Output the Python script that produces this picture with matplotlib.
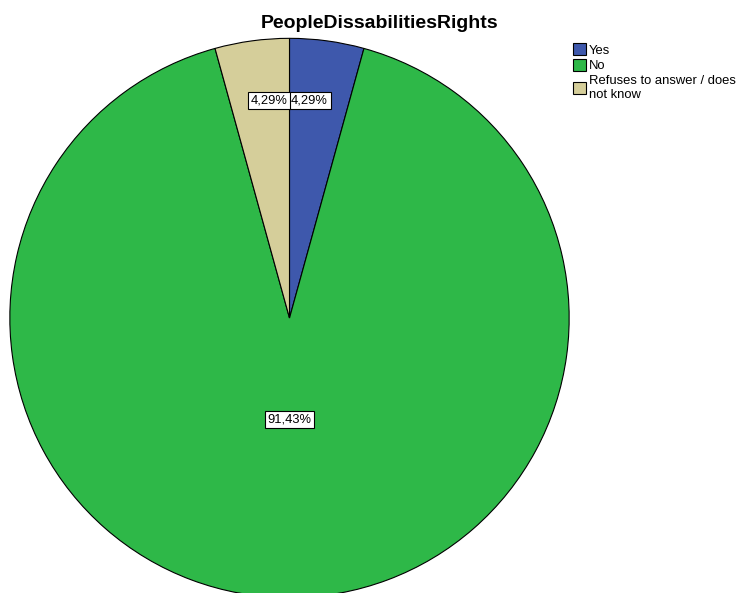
import matplotlib.pyplot as plt
from matplotlib.patches import Patch

categories = ['Yes', 'No', 'Refuses to answer / does\nnot know']
percentages = [4.29, 91.43, 4.29]
colors = ['#3e58ac', '#2eb848', '#d5ce9a']
labels = ['4,29%', '91,43%', '4,29%']

plt.rcParams['font.family'] = ['Liberation Sans', 'DejaVu Sans']

fig = plt.figure(figsize=(7.42, 5.93), dpi=100)
# pie centre at (289.5, 318) px, radius 280.5 px; bottom is clipped by the figure
W, H = 742, 593
ax = fig.add_axes([9 / W, (H - 598.5) / H, 561 / W, 561 / H])
ax.axis('off')

wedges, _ = ax.pie(percentages, colors=colors, startangle=90, counterclock=False,
                   radius=1, wedgeprops=dict(edgecolor='black', linewidth=0.8))
ax.set_xlim(-1.003, 1.003)
ax.set_ylim(-1.003, 1.003)
ax.set_aspect('equal')

box = dict(boxstyle='square,pad=0.2', fc='white', ec='black', lw=0.8)
ax.text(0.006, 0.777, labels[0], ha='left', va='center', fontsize=9.3, bbox=box)
ax.text(-0.006, 0.777, labels[2], ha='right', va='center', fontsize=9.3, bbox=box)
ax.text(0, -0.364, labels[1], ha='center', va='center', fontsize=9.3, bbox=box)

fig.text(380 / W, 1 - 23 / H, 'PeopleDissabilitiesRights', ha='center', va='center',
         fontsize=14, fontweight='bold')

handles = [Patch(facecolor=c, edgecolor='black', lw=0.8) for c in colors]
fig.legend(handles, categories, loc='upper left', bbox_to_anchor=(568 / W, 1 - 38 / H),
           frameon=False, fontsize=9.4, handlelength=1.0, handleheight=1.0,
           handletextpad=0.2, labelspacing=0.2, borderaxespad=0)

fig.savefig('out.png', dpi=100)
